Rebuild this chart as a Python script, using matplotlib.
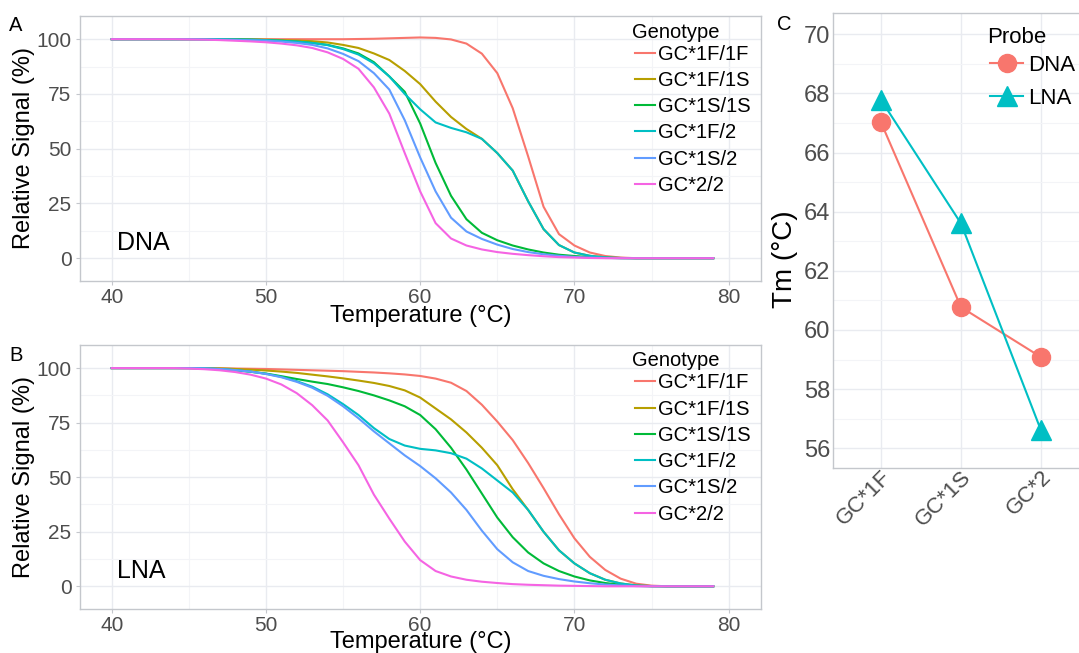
import matplotlib.pyplot as plt
from matplotlib.ticker import MultipleLocator

plt.rcParams['font.family'] = ['Liberation Sans', 'DejaVu Sans']

# melting curves, one value per degree from 40 to 79 C
temps = list(range(40, 80))
genotypes = ['GC*1F/1F', 'GC*1F/1S', 'GC*1S/1S', 'GC*1F/2', 'GC*1S/2', 'GC*2/2']
colors = ['#F8766D', '#B79F00', '#00BA38', '#00BFC4', '#619CFF', '#F564E3']

# DNA probe (panel A)
dna_1f1f = [100, 100, 100, 100, 100, 100, 100, 100, 100, 100,
            100, 100, 100, 100, 100, 100, 100.1, 100.2, 100.4, 100.6,
            100.8, 100.6, 99.9, 98, 93.4, 84.5, 68.5, 46.5, 23.5, 11,
            5.8, 2.6, 1, 0.3, 0, 0, 0, 0, 0, 0]
dna_1f1s = [100, 100, 100, 100, 100, 100, 100, 100, 100, 99.9,
            99.8, 99.6, 99.4, 99.1, 98.5, 97.4, 96, 93.5, 90.5, 85.5,
            79.5, 71.5, 64.5, 59, 54.5, 48, 40, 26, 13.3, 6,
            2.6, 1.1, 0.4, 0.1, 0, 0, 0, 0, 0, 0]
dna_1s1s = [100, 100, 100, 100, 100, 100, 100, 100, 99.9, 99.8,
            99.6, 99.3, 98.9, 98.3, 97.4, 95.8, 93.5, 89.5, 83, 76,
            61.5, 43.5, 28.5, 17.8, 11.6, 8.2, 5.8, 4, 2.6, 1.6,
            1, 0.5, 0.2, 0, 0, 0, 0, 0, 0, 0]
dna_1f2 = [100, 100, 100, 100, 100, 100, 100, 100, 99.9, 99.8,
           99.6, 99.3, 98.9, 98.3, 97.3, 95.5, 93, 89, 83, 75,
           68, 62, 59.5, 57.5, 54.5, 48, 40, 26, 13.3, 6,
           2.6, 1.1, 0.4, 0.1, 0, 0, 0, 0, 0, 0]
dna_1s2 = [100, 100, 100, 100, 100, 100, 99.9, 99.8, 99.7, 99.5,
           99.3, 98.9, 98.3, 97.4, 95.8, 93.3, 90, 84.5, 77, 63,
           46, 30.5, 18.5, 12.2, 8.8, 6.2, 4.2, 2.8, 1.8, 1.1,
           0.6, 0.3, 0.1, 0, 0, 0, 0, 0, 0, 0]
dna_22 = [100, 100, 100, 100, 100, 99.9, 99.8, 99.6, 99.3, 99,
          98.6, 98, 97.2, 96, 94, 91, 86.5, 78, 66, 48,
          30.5, 16, 9, 5.8, 4, 2.8, 2, 1.4, 0.9, 0.5,
          0.3, 0.1, 0, 0, 0, 0, 0, 0, 0, 0]

# LNA probe (panel B)
lna_1f1f = [100, 100, 100, 100, 100, 100, 100, 99.9, 99.8, 99.7,
            99.6, 99.4, 99.2, 99, 98.8, 98.6, 98.3, 98, 97.6, 97.1,
            96.4, 95.2, 93.3, 89.5, 83.2, 75.5, 67, 56.5, 45, 33,
            22, 13.5, 7.5, 3.5, 1.2, 0.3, 0, 0, 0, 0]
lna_1f1s = [100, 100, 100, 100, 100, 100, 100, 99.9, 99.6, 99.3,
            98.9, 98.4, 97.8, 97, 96.2, 95.3, 94.3, 93.2, 91.8, 89.8,
            86.5, 81.5, 76.5, 70.5, 63.5, 55.5, 44.5, 35, 25, 16.5,
            10.5, 6, 3, 1.3, 0.4, 0.1, 0, 0, 0, 0]
lna_1s1s = [100, 100, 100, 100, 100, 100, 99.8, 99.5, 99, 98.3,
            97.5, 96.3, 95, 93.8, 92.7, 91.2, 89.5, 87.5, 85.2, 82.5,
            78.5, 72, 63.5, 53.5, 42.5, 31.5, 22.5, 15.5, 10.5, 7,
            4.5, 2.7, 1.5, 0.7, 0.2, 0, 0, 0, 0, 0]
lna_1f2 = [100, 100, 100, 100, 100, 100, 99.9, 99.6, 99.1, 98.4,
           97.4, 96, 94, 91.5, 88, 83.5, 78.5, 72.5, 67.5, 64.5,
           63, 62.3, 61, 58.5, 54, 48.5, 43, 35, 25, 16.5,
           10.5, 6, 3, 1.3, 0.4, 0.1, 0, 0, 0, 0]
lna_1s2 = [100, 100, 100, 100, 100, 100, 99.9, 99.6, 99.1, 98.4,
           97.3, 95.8, 93.7, 91, 87.3, 82.5, 77, 71, 65.5, 60,
           55.1, 49.5, 43, 35, 25.5, 17, 11, 7, 4.8, 3.3,
           2.2, 1.4, 0.8, 0.4, 0.1, 0, 0, 0, 0, 0]
lna_22 = [100, 100, 100, 100, 100, 99.8, 99.5, 99, 98.2, 97,
          95.2, 92.5, 88.5, 83, 76, 66, 55.5, 42, 31, 20.5,
          12, 7, 4.5, 3, 2.1, 1.5, 1, 0.7, 0.5, 0.3,
          0.2, 0.1, 0, 0, 0, 0, 0, 0, 0, 0]

# Tm per allele (panel C)
alleles = ['GC*1F', 'GC*1S', 'GC*2']
tm_dna = [67.02, 60.77, 59.08]
tm_lna = [67.78, 63.6, 56.6]

border = '#C4C7CC'
grid_major = '#E9EBF0'
grid_minor = '#F3F4F7'
tick_col = '#4D4D4D'


def base_style(ax):
    ax.set_axisbelow(True)
    for s in ax.spines.values():
        s.set_color(border)
        s.set_linewidth(1.0)
    ax.grid(which='major', color=grid_major, lw=1.0)
    ax.grid(which='minor', color=grid_minor, lw=0.8)
    ax.tick_params(which='major', length=3, width=0.8, color=border,
                   labelcolor=tick_col, labelsize=15, pad=3)
    ax.tick_params(which='minor', length=0)


def melt_panel(ax, series, probe, xlab_y):
    for name, vals, col in zip(genotypes, series, colors):
        ax.plot(temps, vals, color=col, lw=1.5, label=name)
    ax.set_xlim(37.94, 82.1)
    ax.set_ylim(-10.4, 110.6)
    ax.set_xticks([40, 50, 60, 70, 80])
    ax.set_yticks([0, 25, 50, 75, 100])
    ax.xaxis.set_minor_locator(MultipleLocator(5))
    ax.yaxis.set_minor_locator(MultipleLocator(12.5))
    base_style(ax)
    ax.tick_params(axis='x', pad=2)
    ax.text(40.35, 3.8, probe, fontsize=18, color='black')
    ax.set_xlabel('Temperature (°C)', fontsize=17)
    ax.set_ylabel('Relative Signal (%)', fontsize=17)
    ax.xaxis.set_label_coords(0.5, xlab_y)
    ax.yaxis.set_label_coords(-0.066, 0.5)
    ax.text(0.8106, 0.9396, 'Genotype', transform=ax.transAxes, fontsize=14.5, va='center')
    leg = ax.legend(loc='upper left', bbox_to_anchor=(0.815, 0.892),
                    frameon=False, fontsize=14.5,
                    handlelength=1.0, handletextpad=0.15, labelspacing=0.36,
                    borderpad=0, borderaxespad=0)
    for line in leg.get_lines():
        line.set_linewidth(1.5)


fig = plt.figure(figsize=(10.79, 6.53), dpi=100)
ax_a = fig.add_axes([0.0741, 0.5697, 0.6312, 0.4058])
ax_b = fig.add_axes([0.0741, 0.0674, 0.6312, 0.4043])
ax_c = fig.add_axes([0.772, 0.2833, 0.2373, 0.6968])

melt_panel(ax_a, [dna_1f1f, dna_1f1s, dna_1s1s, dna_1f2, dna_1s2, dna_22], 'DNA', -0.092)
melt_panel(ax_b, [lna_1f1f, lna_1f1s, lna_1s1s, lna_1f2, lna_1s2, lna_22], 'LNA', -0.084)

# panel C
pos = list(range(len(alleles)))
ax_c.plot(pos, tm_dna, color='#F8766D', lw=1.5, marker='o', markersize=13, label='DNA')
ax_c.plot(pos, tm_lna, color='#00BFC4', lw=1.5, marker='^', markersize=15, label='LNA')
ax_c.set_xlim(-0.6, 2.6)
ax_c.set_ylim(55.33, 70.72)
ax_c.set_xticks(pos)
ax_c.set_xticklabels(alleles, rotation=45, ha='right', va='top', rotation_mode='anchor')
ax_c.set_yticks(range(56, 71, 2))
ax_c.yaxis.set_minor_locator(MultipleLocator(1))
base_style(ax_c)
ax_c.tick_params(which='major', length=0, labelsize=17, pad=2)
ax_c.tick_params(axis='x', pad=-1, labelsize=16)
ax_c.set_ylabel('Tm (°C)', fontsize=20)
ax_c.yaxis.set_label_coords(-0.136, 0.46)
fig.text(0.9147, 0.9433, 'Probe', fontsize=16, va='center')
ax_c.legend(loc='upper left', bbox_to_anchor=(0.9175, 0.916),
            bbox_transform=fig.transFigure, frameon=False, fontsize=16,
            handlelength=1.5, handletextpad=0.22, labelspacing=0.55,
            borderpad=0, borderaxespad=0)

fig.text(0.008, 0.975, 'A', fontsize=14.5, va='top')
fig.text(0.009, 0.47, 'B', fontsize=14.5, va='top')
fig.text(0.72, 0.977, 'C', fontsize=14.5, va='top')

fig.savefig('out.png', dpi=100)
